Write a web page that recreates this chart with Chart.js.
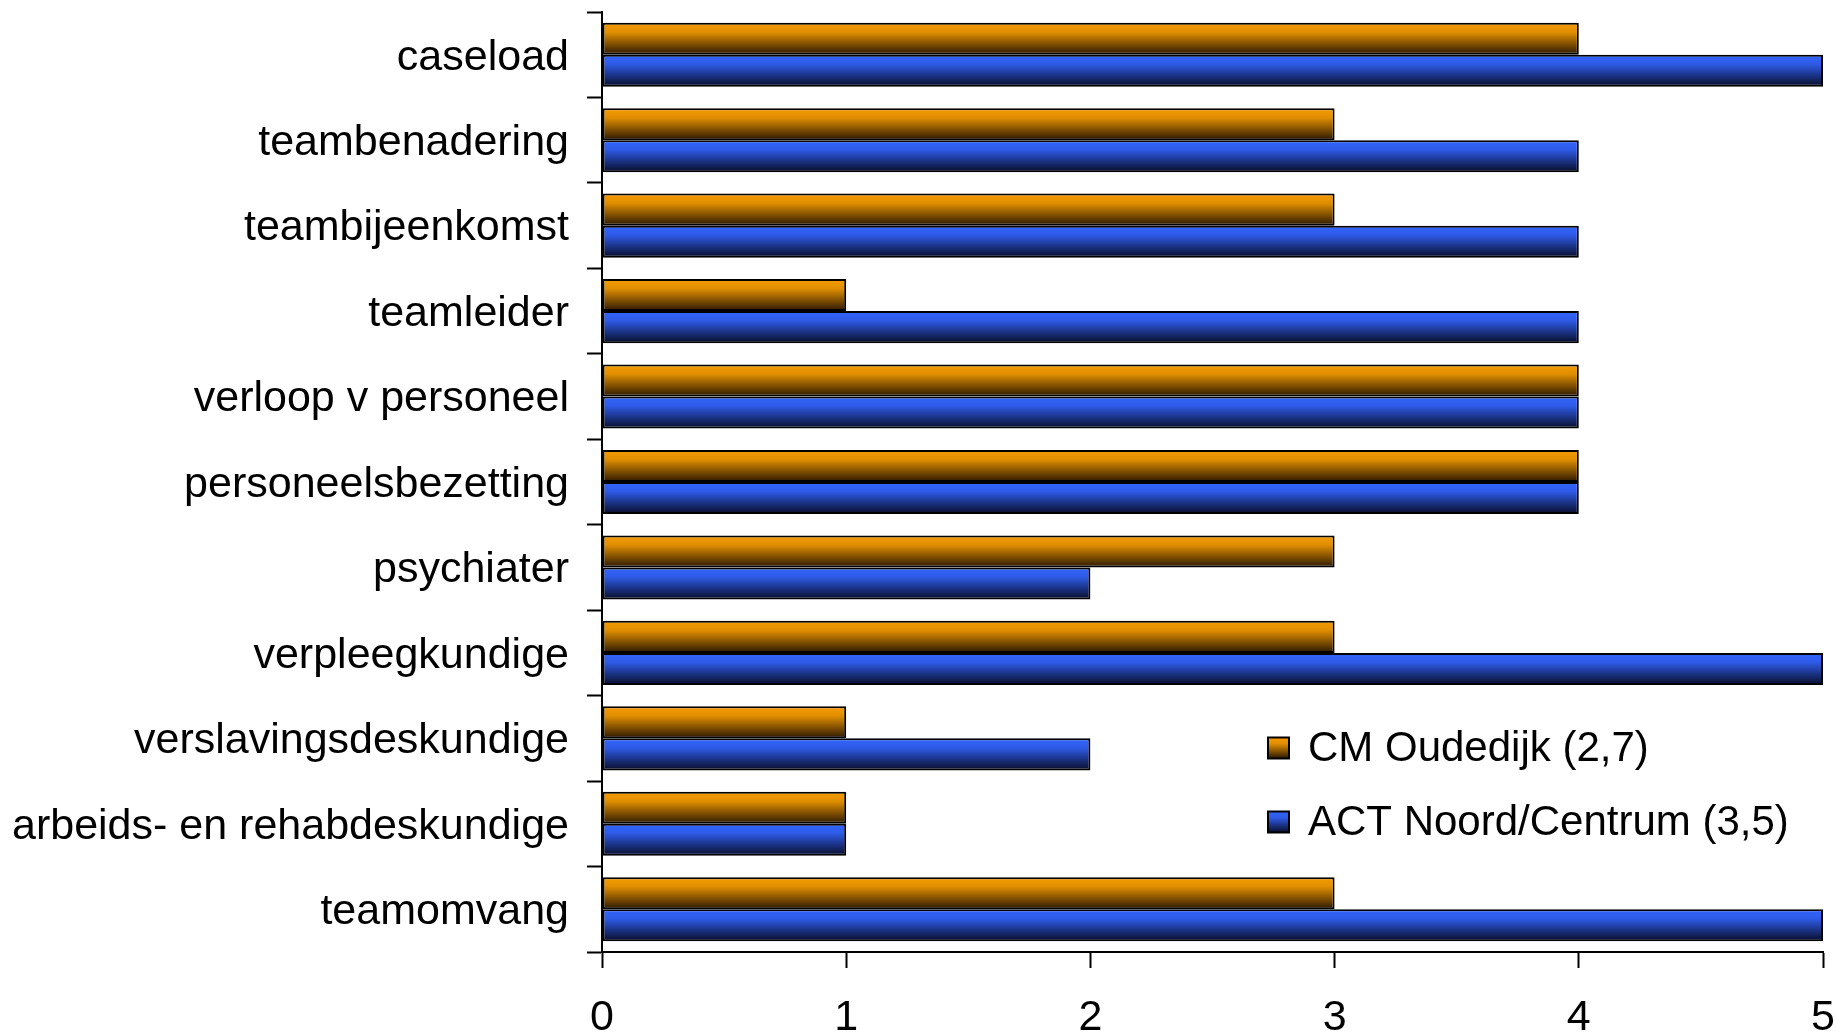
<!DOCTYPE html>
<html>
<head>
<meta charset="utf-8">
<script src="https://cdn.jsdelivr.net/npm/chart.js@4.4.1/dist/chart.umd.min.js"></script>
<style>
  html, body { margin: 0; padding: 0; background: #fff; }
  #wrap { width: 1839px; height: 1033px; position: relative; }
</style>
</head>
<body>
<div id="wrap"><canvas id="chart"></canvas></div>
<script>
const categories = [
  'caseload', 'teambenadering', 'teambijeenkomst', 'teamleider',
  'verloop v personeel', 'personeelsbezetting', 'psychiater',
  'verpleegkundige', 'verslavingsdeskundige',
  'arbeids- en rehabdeskundige', 'teamomvang'
];
const cmOudedijk = [4, 3, 3, 1, 4, 4, 3, 3, 1, 1, 3];
const actNoordCentrum = [5, 4, 4, 4, 4, 4, 2, 5, 2, 1, 5];
const seriesNames = ['CM Oudedijk (2,7)', 'ACT Noord/Centrum (3,5)'];
const xTicks = [0, 1, 2, 3, 4, 5];

const FONT = '"Liberation Sans", Arial, Helvetica, sans-serif';
Chart.defaults.font.family = FONT;
Chart.defaults.color = '#000';

// top / mid / bottom colours of the shaded bars
const shades = [
  ['#f79c00', '#e08e00', '#2a1700'],
  ['#3366ff', '#2e5ae6', '#070c26']
];

const makeGradient = (ctx, top, bottom, stops) => {
  const g = ctx.createLinearGradient(0, top, 0, bottom);
  g.addColorStop(0, stops[0]);
  g.addColorStop(0.3, stops[1]);
  g.addColorStop(1, stops[2]);
  return g;
};

// shade each bar top-to-bottom, like the original
const shadePlugin = {
  id: 'shade',
  beforeDatasetsDraw(chart) {
    const ctx = chart.ctx;
    chart.data.datasets.forEach((ds, i) => {
      chart.getDatasetMeta(i).data.forEach(el => {
        const top = el.y - el.height / 2;
        el.options.backgroundColor = makeGradient(ctx, top, top + el.height, shades[i]);
      });
    });
  }
};

// legend drawn inside the plot, lower right
const legendPlugin = {
  id: 'boxLegend',
  afterDraw(chart) {
    const ctx = chart.ctx;
    const x = 1268, rows = [748, 822], size = 21;
    ctx.save();
    ctx.font = '42px ' + FONT;
    ctx.textBaseline = 'middle';
    seriesNames.forEach((name, i) => {
      const y = rows[i];
      ctx.fillStyle = makeGradient(ctx, y - size / 2, y + size / 2, shades[i]);
      ctx.fillRect(x, y - size / 2, size, size);
      ctx.lineWidth = 2;
      ctx.strokeStyle = '#000';
      ctx.strokeRect(x, y - size / 2, size, size);
      ctx.fillStyle = '#000';
      ctx.fillText(name, x + 40, y + 1);
    });
    ctx.restore();
  }
};

new Chart(document.getElementById('chart'), {
  type: 'bar',
  data: {
    labels: categories,
    datasets: [
      { label: seriesNames[0], data: cmOudedijk, backgroundColor: () => shades[0][0] },
      { label: seriesNames[1], data: actNoordCentrum, backgroundColor: () => shades[1][0] }
    ]
  },
  options: {
    indexAxis: 'y',
    responsive: true,
    maintainAspectRatio: false,
    animation: false,
    devicePixelRatio: 1,
    layout: { padding: { top: 12, right: 16, left: 0, bottom: 0 } },
    datasets: {
      bar: {
        categoryPercentage: 0.75,
        barPercentage: 1.0,
        borderColor: '#000',
        borderWidth: 2,
        borderSkipped: false
      }
    },
    plugins: {
      legend: { display: false },
      tooltip: { enabled: false }
    },
    scales: {
      x: {
        min: 0, max: 5,
        ticks: { stepSize: 1, font: { size: 43 }, padding: 24, color: '#000' },
        grid: { drawOnChartArea: false, tickLength: 16, tickWidth: 2, color: '#000' },
        border: { display: true, color: '#000', width: 2 },
        afterFit: s => { s.height = 81; s.paddingLeft = 0; s.paddingRight = 0; }
      },
      y: {
        ticks: { font: { size: 43 }, padding: 18, labelOffset: 3, color: '#000', autoSkip: false },
        grid: { offset: true, drawOnChartArea: false, tickLength: 15, tickWidth: 2, color: '#000' },
        border: { display: true, color: '#000', width: 2 },
        afterFit: s => { s.width = 602; s.paddingTop = 0; s.paddingBottom = 0; }
      }
    }
  },
  plugins: [shadePlugin, legendPlugin]
});
</script>
</body>
</html>
